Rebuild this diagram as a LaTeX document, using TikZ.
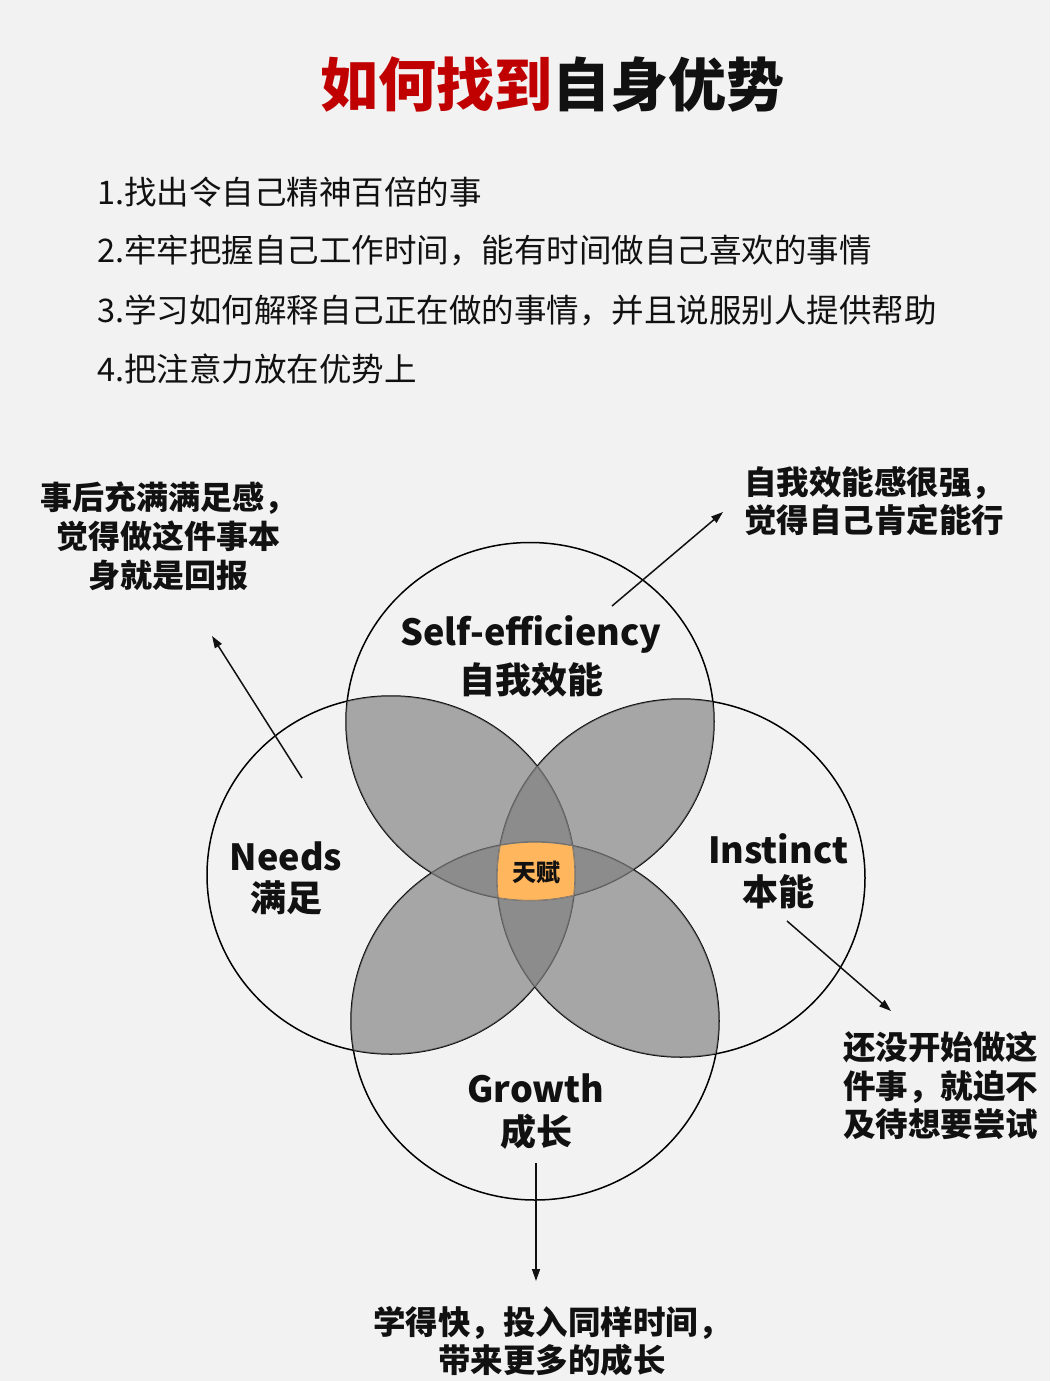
\documentclass[tikz,border=0pt]{standalone}
\usepackage{fontspec}
\setmainfont{Noto Sans CJK SC}
\usetikzlibrary{arrows.meta}
\definecolor{bg}{RGB}{242,242,242}
\definecolor{titlered}{RGB}{192,0,0}
\definecolor{petal}{RGB}{128,128,128}
\definecolor{talent}{RGB}{255,182,92}
\definecolor{ink}{RGB}{17,17,17}
\tikzset{
  circ/.style={draw=black, line width=1.5pt},
  petalfill/.style={fill=petal, fill opacity=0.667},
  arr/.style={-{Triangle[length=12pt,width=8pt]}, line width=1.5pt, draw=ink},
  lbl/.style={inner sep=0pt, align=center, text=ink, font=\fontsize{36}{44}\selectfont\bfseries},
  note/.style={inner sep=0pt, text=ink, font=\fontsize{32.5}{38.5}\selectfont\bfseries},
  item/.style={inner sep=0pt, anchor=west, text=ink, font=\fontsize{32.5}{36}\selectfont},
  ell/.style={x radius=184pt, y radius=179pt}
}
\begin{document}
\begin{tikzpicture}[x=1pt,y=-1pt]
\fill[bg] (0,0) rectangle (1050,1381);
\useasboundingbox (0,0) rectangle (1050,1381);

% title and list
\node[inner sep=0pt, text=ink, font=\fontsize{58}{64}\selectfont\bfseries] (title) at (552,85) {\textcolor{titlered}{如何找到}自身优势};
\node[item] (l1) at (97,192) {1.找出令自己精神百倍的事};
\node[item] (l2) at (97,251) {2.牢牢把握自己工作时间，能有时间做自己喜欢的事情};
\node[item] (l3) at (97,310) {3.学习如何解释自己正在做的事情，并且说服别人提供帮助};
\node[item] (l4) at (97,369) {4.把注意力放在优势上};

% circles
\coordinate (cT) at (530,721.5);
\coordinate (cB) at (535,1021);
\coordinate (cL) at (391,875);
\coordinate (cR) at (681,878);
\draw[circ] (cT) ellipse[ell];
\draw[circ] (cB) ellipse[ell];
\draw[circ] (cL) ellipse[ell];
\draw[circ] (cR) ellipse[ell];

% petals
\begin{scope}
  \clip (cT) ellipse[ell];
  \fill[petalfill] (cL) ellipse[ell];
\end{scope}
\begin{scope}
  \clip (cT) ellipse[ell];
  \fill[petalfill] (cR) ellipse[ell];
\end{scope}
\begin{scope}
  \clip (cB) ellipse[ell];
  \fill[petalfill] (cL) ellipse[ell];
\end{scope}
\begin{scope}
  \clip (cB) ellipse[ell];
  \fill[petalfill] (cR) ellipse[ell];
\end{scope}

% talent centre
\begin{scope}
  \clip (cT) ellipse[ell];
  \clip (cL) ellipse[ell];
  \clip (cR) ellipse[ell];
  \fill[talent] (cB) ellipse[ell];
  \draw[black!55, line width=1.2pt] (cT) ellipse[ell] (cB) ellipse[ell] (cL) ellipse[ell] (cR) ellipse[ell];
\end{scope}
\node[inner sep=0pt, text=ink, font=\fontsize{24}{28}\selectfont\bfseries] (talentlbl) at (536,872) {天赋};

% circle labels
\node[lbl] (selfEn) at (531,634) {Self-efficiency};
\node[lbl] (selfZh) at (531,680) {自我效能};
\node[lbl] (needEn) at (286,856) {Needs};
\node[lbl] (needZh) at (286,898) {满足};
\node[lbl] (instEn) at (778,849) {Instinct};
\node[lbl] (instZh) at (778,892) {本能};
\node[lbl] (growEn) at (536,1088) {Growth};
\node[lbl] (growZh) at (536,1132) {成长};

% notes
\node[note, align=center, font=\fontsize{32}{39}\selectfont\bfseries] (noteTL) at (168,536) {事后充满满足感，\\觉得做这件事本\\身就是回报};
\node[note, align=left, anchor=west] (noteTR) at (744,501) {自我效能感很强，\\觉得自己肯定能行};
\node[note, align=left, anchor=west] (noteR) at (843,1086) {还没开始做这\\件事，就迫不\\及待想要尝试};
\node[note, align=center] (noteB) at (552,1341) {学得快，投入同样时间，\\带来更多的成长};

% arrows
\coordinate (a1s) at (302,778); \coordinate (a1e) at (212,636);
\coordinate (a2s) at (612,606); \coordinate (a2e) at (723,512);
\coordinate (a3s) at (787,921); \coordinate (a3e) at (891,1011);
\coordinate (a4s) at (536,1163); \coordinate (a4e) at (536,1281);
\draw[arr] (a1s) -- (a1e);
\draw[arr] (a2s) -- (a2e);
\draw[arr] (a3s) -- (a3e);
\draw[arr] (a4s) -- (a4e);
\end{tikzpicture}
\end{document}
